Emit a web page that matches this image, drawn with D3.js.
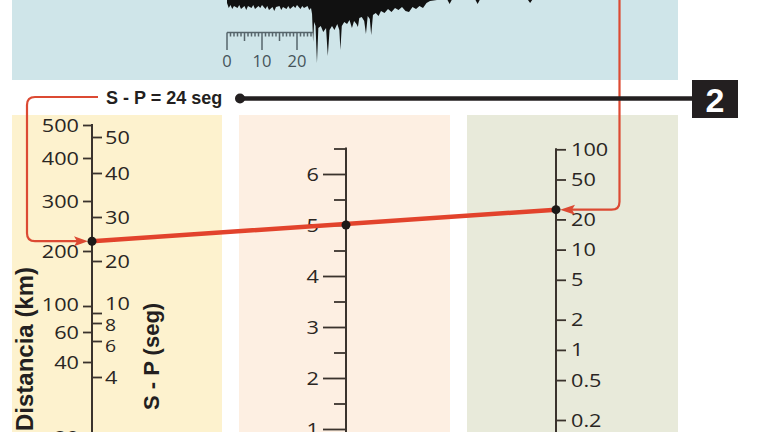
<!DOCTYPE html>
<html>
<head>
<meta charset="utf-8">
<script src="https://cdn.jsdelivr.net/npm/d3@7"></script>
<style>
  html, body { margin: 0; padding: 0; background: #fff; }
  svg { display: block; }
</style>
</head>
<body>
<div id="chart"></div>
<script>
// scale values of the nomogram
const distanceTicks = [20, 40, 60, 100, 200, 300, 400, 500];
const spTicks = [4, 6, 8, 10, 20, 30, 40, 50];
const magnitudeTicks = [1, 2, 3, 4, 5, 6];
const amplitudeTicks = [0.2, 0.5, 1, 2, 5, 10, 20, 50, 100];
const rulerLabels = [0, 10, 20];

// the reading drawn on the nomogram
const spReading = 24;        // seg
const amplitudeReading = 25; // mm
const magnitudeReading = 5;

// lower edge of the seismogram trace: time (s) and how far the trace reaches down
const seisTime = [0, 0.5, 1, 1.5, 2, 3, 3.5, 4, 5, 5.5, 6, 7, 7.5, 8, 9, 9.5, 10, 11, 11.5, 12,
  13, 13.5, 14, 15, 15.5, 16, 17, 17.5, 18, 19, 19.5, 20, 21, 21.5, 22, 23, 23.5, 24,
  24.3, 24.6, 24.9, 25.3, 25.7, 26.1, 26.8, 27.5, 28.3, 28.8, 29.3, 30, 30.7, 31.5, 32.1, 32.4,
  32.8, 33.5, 34.3, 35, 35.7, 36.3, 37, 37.4, 37.8, 38.5, 39.2, 39.7, 40.2, 40.8, 41.2, 41.7,
  42.5, 43.3, 44, 45, 46, 47, 48, 49, 50, 51, 52, 53, 54, 55, 56, 57, 58, 60,
  63, 63.6, 64.2, 71, 71.6, 72.2, 86, 86.6, 87.2, 91];
const seisDepth = [3, 8, 5, 9, 6, 8, 5, 9, 6, 10, 6, 8, 5, 9, 6, 8, 5, 9, 6, 10,
  7, 11, 7, 6, 10, 7, 9, 6, 9, 6, 8, 5, 9, 6, 8, 6, 10, 8,
  14, 42, 22, 26, 63, 28, 26, 32, 28, 56, 30, 26, 30, 24, 30, 50,
  26, 22, 24, 20, 28, 21, 24, 27, 18, 17, 21, 34, 16, 19, 35, 15,
  13, 16, 11, 13, 9, 12, 8, 10, 7, 11, 12, 7, 9, 6, 8, 3, 1, 0,
  0, 4, 0, 0, 4, 0, 0, 3, 0, 0];

function drawNomogram() {
    const width = 768, height = 432;
    const ink = '#2a2623';
    const red = '#dc4a33';
    const labelFont = '"Open Sans", sans-serif';
    const boldFont = '"Liberation Sans", Arial, sans-serif';

    const svg = d3.select('#chart')
        .append('svg')
        .attr('width', width)
        .attr('height', height);

    // background panels
    svg.append('rect').attr('x', 12).attr('y', 0).attr('width', 666).attr('height', 80).attr('fill', '#cfe5e9');
    svg.append('rect').attr('x', 12).attr('y', 115).attr('width', 210).attr('height', 330).attr('fill', '#fdf2ce');
    svg.append('rect').attr('x', 239).attr('y', 115).attr('width', 211).attr('height', 330).attr('fill', '#fdefe2');
    svg.append('rect').attr('x', 467).attr('y', 115).attr('width', 211).attr('height', 330).attr('fill', '#e8eada');

    const axisX = { dist: 92, mag: 346, amp: 556 };

    const distY = d3.scaleLog().domain(distanceTicks).range([437, 362, 332, 306, 251, 201, 158, 125]);
    const spY = d3.scaleLog().domain(spTicks).range([377, 341, 323, 313, 261, 217, 173, 137]);
    const magY = d3.scaleLinear().domain([1, 6]).range([429, 174]);
    const ampY = d3.scaleLog().domain([0.2, 100]).range([420, 149.3]);

    const seisX = d3.scaleLinear().domain([0, 20]).range([227, 297]);
    const seisY = d3.scaleLinear().domain([0, 60]).range([0, 60]);

    // ruler under the record
    const ruler = svg.append('g').attr('stroke', '#56656b').attr('stroke-width', 1.5);
    ruler.append('line')
        .attr('x1', seisX(0)).attr('x2', seisX(24.5))
        .attr('y1', 32.5).attr('y2', 32.5);
    ruler.selectAll('.rtick')
        .data(d3.range(0, 25))
        .enter()
        .append('line')
        .attr('class', 'rtick')
        .attr('x1', d => seisX(d)).attr('x2', d => seisX(d))
        .attr('y1', 32.5)
        .attr('y2', d => d % 10 === 0 ? 50 : (d % 5 === 0 ? 41 : 36.5));
    svg.selectAll('.rlabel')
        .data(rulerLabels)
        .enter()
        .append('text')
        .attr('class', 'rlabel')
        .attr('x', d => seisX(d))
        .attr('y', 66.5)
        .attr('text-anchor', 'middle')
        .style('font-family', labelFont)
        .style('font-size', '16.5px')
        .style('fill', '#45545a')
        .text(d => d);

    // seismogram trace
    const seisArea = d3.area()
        .x((d, i) => seisX(seisTime[i]))
        .y0(-4)
        .y1(d => seisY(d));
    svg.append('path')
        .datum(seisDepth)
        .attr('d', seisArea)
        .attr('fill', '#111');

    // axes
    function styleLabels(g, dx, shift) {
        g.select('.domain').remove();
        g.selectAll('line').attr('stroke', '#3a332d').attr('stroke-width', 1.8);
        g.selectAll('text')
            .attr('x', null)
            .attr('transform', d => `translate(${dx},${shift && shift[d] ? shift[d].dy : 0}) scale(1.14,1)`)
            .style('font-family', labelFont)
            .style('font-size', d => (shift && shift[d] ? shift[d].size : 19) + 'px')
            .style('fill', ink);
    }

    const axisLine = (x, y1, y2) => svg.append('line')
        .attr('x1', x).attr('x2', x).attr('y1', y1).attr('y2', y2)
        .attr('stroke', '#3a332d').attr('stroke-width', 2);

    axisLine(axisX.dist, distY(500) - 1, height + 5);
    axisLine(axisX.mag, magY(6.5) - 1, height + 5);
    axisLine(axisX.amp, ampY(100) - 1, height + 5);

    svg.append('g')
        .attr('transform', `translate(${axisX.dist},0)`)
        .call(d3.axisLeft(distY).tickValues(distanceTicks).tickFormat(d => d).tickSize(9).tickSizeOuter(0))
        .call(g => styleLabels(g, -13, { 100: { dy: -2, size: 19 } }));

    // crowded small S - P labels are nudged apart as in the print
    svg.append('g')
        .attr('transform', `translate(${axisX.dist},0)`)
        .call(d3.axisRight(spY).tickValues(spTicks).tickFormat(d => d).tickSize(10).tickSizeOuter(0))
        .call(g => styleLabels(g, 13, {
            10: { dy: -10, size: 19 },
            8: { dy: 2, size: 17 },
            6: { dy: 5, size: 17 }
        }));

    svg.append('g')
        .attr('transform', `translate(${axisX.mag},0)`)
        .call(d3.axisLeft(magY).tickValues(magnitudeTicks).tickFormat(d => d).tickSize(23).tickSizeOuter(0))
        .call(g => styleLabels(g, -27));

    svg.append('g')
        .attr('transform', `translate(${axisX.mag},0)`)
        .call(d3.axisLeft(magY).tickValues(d3.range(0.5, 7, 1)).tickFormat('').tickSize(12).tickSizeOuter(0))
        .call(g => styleLabels(g, 0));

    svg.append('g')
        .attr('transform', `translate(${axisX.amp},0)`)
        .call(d3.axisRight(ampY).tickValues(amplitudeTicks).tickFormat(d => d).tickSize(10).tickSizeOuter(0))
        .call(g => styleLabels(g, 15));

    // axis titles
    svg.append('text')
        .attr('transform', 'translate(33,431) rotate(-90)')
        .style('font-family', boldFont)
        .style('font-weight', 'bold')
        .style('font-size', '24px')
        .style('fill', '#231f20')
        .text('Distancia (km)');

    svg.append('text')
        .attr('transform', 'translate(159,410) rotate(-90)')
        .style('font-family', boldFont)
        .style('font-weight', 'bold')
        .style('font-size', '22px')
        .style('fill', '#231f20')
        .text('S - P (seg)');

    // reading points
    const pSP = [axisX.dist, spY(spReading)];
    const pMag = [axisX.mag, magY(magnitudeReading)];
    const pAmp = [axisX.amp, ampY(amplitudeReading)];
    const labelY = 97;

    // red callout from the S - P label to the distance axis
    const left = d3.path();
    left.moveTo(98, labelY);
    left.lineTo(35, labelY);
    left.quadraticCurveTo(27, labelY, 27, labelY + 8);
    left.lineTo(27, pSP[1] - 8);
    left.quadraticCurveTo(27, pSP[1], 35, pSP[1]);
    left.lineTo(pSP[0] - 14, pSP[1]);
    svg.append('path').attr('d', left.toString())
        .attr('fill', 'none').attr('stroke', red).attr('stroke-width', 2.2);
    svg.append('path')
        .attr('d', `M${pSP[0] - 4},${pSP[1]} L${pSP[0] - 18},${pSP[1] - 5} L${pSP[0] - 15},${pSP[1]} L${pSP[0] - 18},${pSP[1] + 5} Z`)
        .attr('fill', red);

    // red callout from the record down to the amplitude axis
    const right = d3.path();
    right.moveTo(619.5, -2);
    right.lineTo(619.5, pAmp[1] - 8);
    right.quadraticCurveTo(619.5, pAmp[1], 611.5, pAmp[1]);
    right.lineTo(pAmp[0] + 16, pAmp[1]);
    svg.append('path').attr('d', right.toString())
        .attr('fill', 'none').attr('stroke', red).attr('stroke-width', 2.2);
    svg.append('path')
        .attr('d', `M${pAmp[0] + 4},${pAmp[1]} L${pAmp[0] + 19},${pAmp[1] - 5} L${pAmp[0] + 16},${pAmp[1]} L${pAmp[0] + 19},${pAmp[1] + 5} Z`)
        .attr('fill', red);

    // the straight reading line
    svg.append('line')
        .attr('x1', pSP[0]).attr('y1', pSP[1])
        .attr('x2', pAmp[0]).attr('y2', pAmp[1])
        .attr('stroke', '#e2432c')
        .attr('stroke-width', 4.5)
        .attr('stroke-linecap', 'round');

    svg.selectAll('.dot')
        .data([pSP, pMag, pAmp])
        .enter()
        .append('circle')
        .attr('class', 'dot')
        .attr('cx', d => d[0])
        .attr('cy', d => d[1])
        .attr('r', 4.5)
        .attr('fill', '#1d1a18');

    // step label and marker
    svg.append('text')
        .attr('x', 106)
        .attr('y', 103.5)
        .style('font-family', boldFont)
        .style('font-weight', 'bold')
        .style('font-size', '18px')
        .style('fill', '#231f20')
        .text(`S - P = ${spReading} seg`);

    svg.append('line')
        .attr('x1', 240).attr('x2', 692)
        .attr('y1', 98.5).attr('y2', 98.5)
        .attr('stroke', '#231f20')
        .attr('stroke-width', 4.5);
    svg.append('circle').attr('cx', 240).attr('cy', 98.5).attr('r', 5).attr('fill', '#231f20');

    svg.append('rect')
        .attr('x', 692).attr('y', 80)
        .attr('width', 46).attr('height', 38)
        .attr('fill', '#231f20');
    svg.append('text')
        .attr('x', 715)
        .attr('y', 112)
        .attr('text-anchor', 'middle')
        .style('font-family', boldFont)
        .style('font-weight', 'bold')
        .style('font-size', '34px')
        .style('fill', '#fff')
        .text('2');
}

drawNomogram();
</script>
</body>
</html>
